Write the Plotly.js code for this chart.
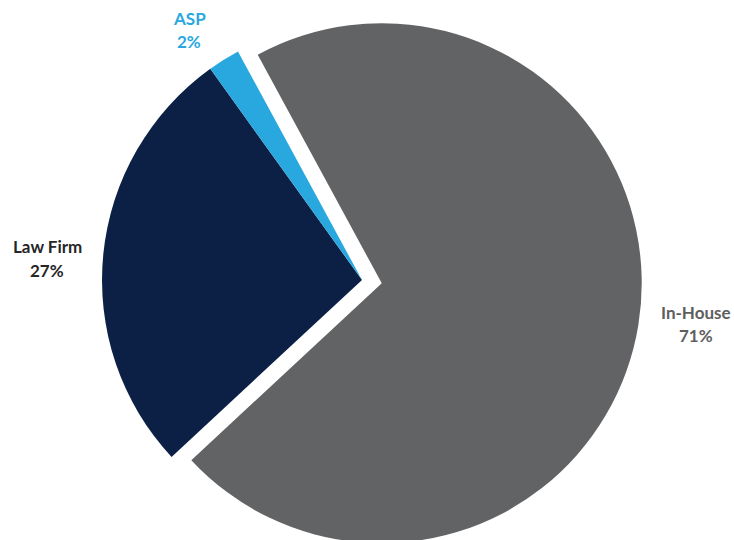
<!DOCTYPE html>
<html>
<head>
<meta charset="utf-8">
<script src="https://cdn.plot.ly/plotly-3.0.1.min.js"></script>
<style>
  html, body { margin: 0; padding: 0; overflow: hidden; background: #ffffff; }
  #chart { width: 734px; height: 560px; }
</style>
</head>
<body>
<div id="chart"></div>
<script>
// Data
var categories = ["In-House", "Law Firm", "ASP"];
var values = [71, 27, 2];
var percentLabels = ["71%", "27%", "2%"];
var sliceColors = ["#626365", "#0c1f45", "#29a8e0"];
var labelColors = ["#5e5e5e", "#262626", "#29a8e0"];
var pulls = [0.077, 0, 0];

var W = 734, H = 560;
// label pixel positions (name line, percent line)
var labelPos = [
  {x: 696, y1: 312, y2: 335},
  {x: 47,  y1: 246, y2: 270},
  {x: 189, y1: 18,  y2: 42}
];

var trace = {
  type: "pie",
  labels: categories,
  values: values,
  sort: false,
  direction: "clockwise",
  rotation: -28.5,
  pull: pulls,
  marker: { colors: sliceColors, line: { width: 0 } },
  textinfo: "none",
  hoverinfo: "label+percent",
  domain: { x: [82 / W, 642 / W], y: [0, 1] },
  showlegend: false
};

var annotations = [];
for (var i = 0; i < categories.length; i++) {
  var p = labelPos[i];
  var f = { family: "Lato, 'Open Sans', sans-serif", size: 17, color: labelColors[i], weight: "bold" };
  annotations.push({
    text: categories[i], x: p.x / W, y: 1 - p.y1 / H, xref: "paper", yref: "paper",
    xanchor: "center", yanchor: "middle", showarrow: false, font: f
  });
  annotations.push({
    text: percentLabels[i], x: p.x / W, y: 1 - p.y2 / H, xref: "paper", yref: "paper",
    xanchor: "center", yanchor: "middle", showarrow: false, font: f
  });
}

var layout = {
  width: W,
  height: H,
  margin: { l: 0, r: 0, t: 0, b: 0, pad: 0 },
  paper_bgcolor: "#ffffff",
  plot_bgcolor: "#ffffff",
  showlegend: false,
  annotations: annotations
};

Plotly.newPlot("chart", [trace], layout, { displayModeBar: false, staticPlot: true });
</script>
</body>
</html>
